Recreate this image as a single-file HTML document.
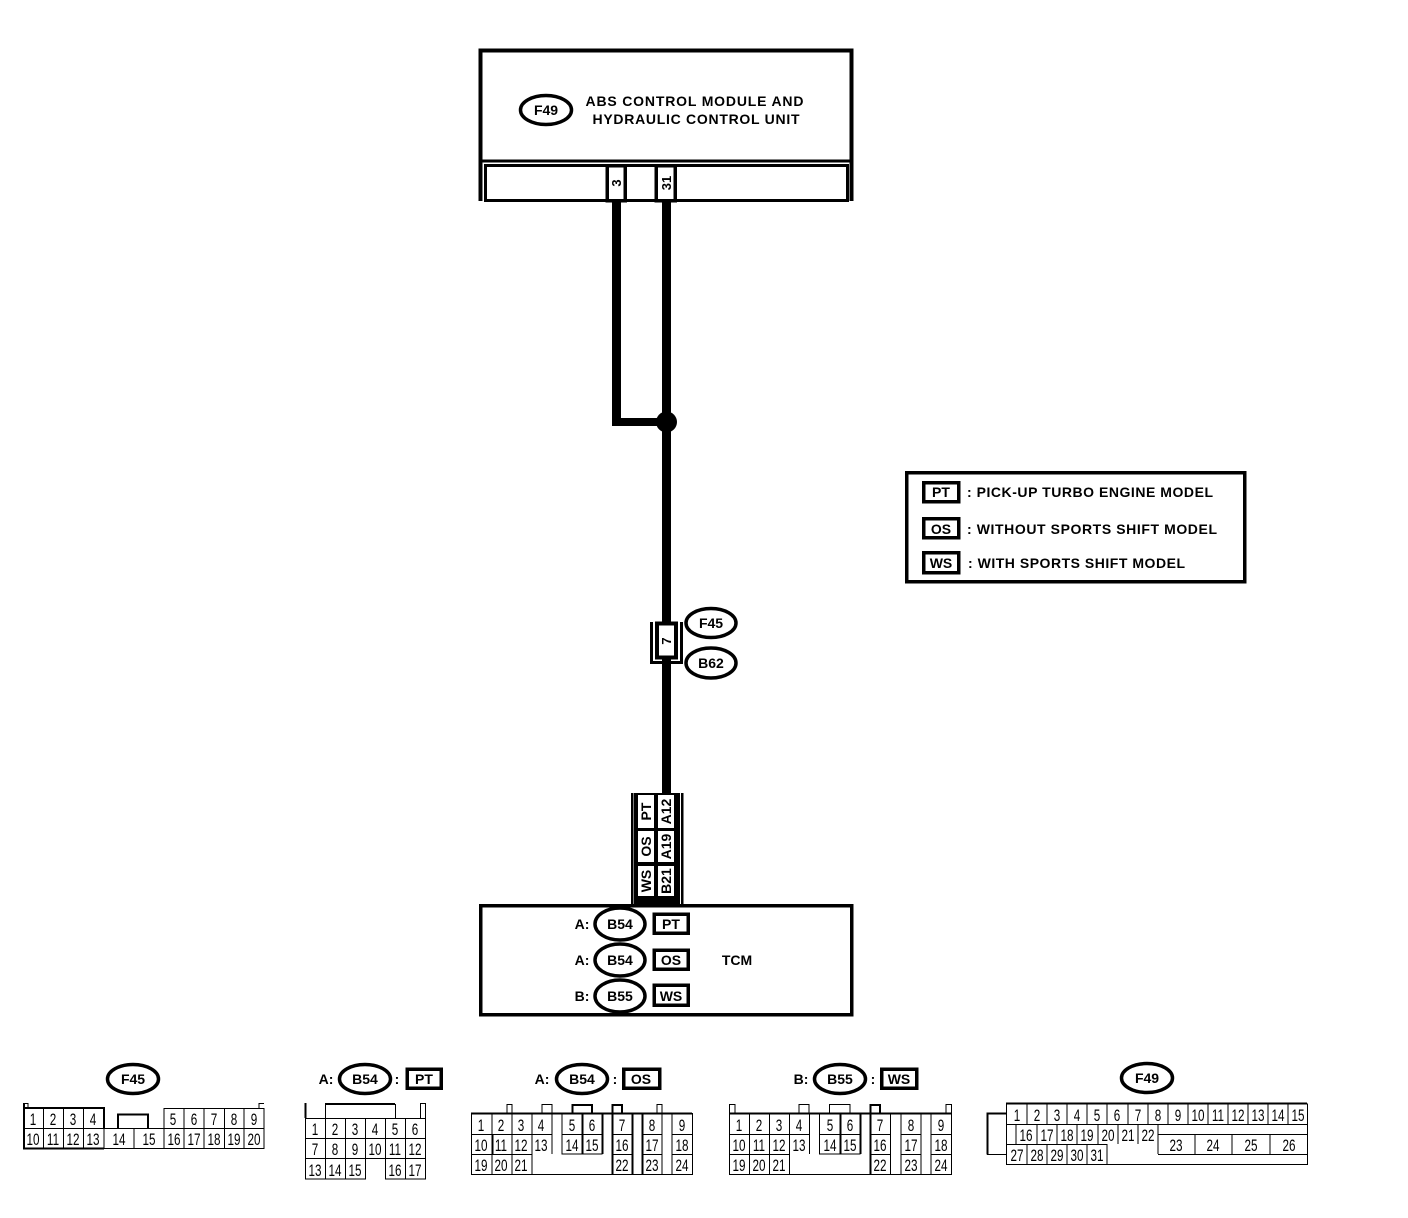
<!DOCTYPE html>
<html><head><meta charset="utf-8"><style>
html,body{margin:0;padding:0;background:#fff}
svg{display:block}
text{font-family:"Liberation Sans",sans-serif;fill:#000;text-anchor:middle}
.b{font-weight:bold;font-size:14px}
.n{font-size:13px;transform-box:fill-box;transform-origin:center;transform:translateY(1px) scale(.9,1.25)}
.l{stroke:#000;fill:none;stroke-width:1.2;shape-rendering:crispEdges}
.h{stroke:#000;fill:none;stroke-width:2;shape-rendering:crispEdges}
.k{stroke:#000;fill:#fff;stroke-width:3.5;shape-rendering:crispEdges}
.e{stroke:#000;fill:#fff;stroke-width:3.5}
</style></head><body>
<svg width="1408" height="1218" viewBox="0 0 1408 1218" xmlns="http://www.w3.org/2000/svg">
<!-- ABS module -->
<path d="M480.500 201V50.500H851.500V201" fill="#fff" stroke="#000" stroke-width="4" shape-rendering="crispEdges"/>
<rect x="479" y="159.500" width="374" height="3" fill="#000"/>
<rect x="485.500" y="165.500" width="362" height="35" fill="#fff" stroke="#000" stroke-width="3" shape-rendering="crispEdges"/>
<rect x="607" y="165.500" width="18" height="35" fill="#fff" stroke="#000" stroke-width="3.500" shape-rendering="crispEdges"/>
<rect x="656" y="165.500" width="19" height="35" fill="#fff" stroke="#000" stroke-width="3.500" shape-rendering="crispEdges"/>
<ellipse class="e" cx="546" cy="110" rx="25.500" ry="14.500"/>
<text class="b" x="546" y="115">F49</text>
<text class="b" x="694.500" y="106" textLength="218" lengthAdjust="spacing">ABS CONTROL MODULE AND</text>
<text class="b" x="696" y="124" textLength="207" lengthAdjust="spacing">HYDRAULIC CONTROL UNIT</text>
<text class="b" transform="translate(621,183) rotate(-90)" style="font-size:13px">3</text>
<text class="b" transform="translate(671,183) rotate(-90)" style="font-size:13px">31</text>
<!-- wires -->
<path d="M612 202H621V418H662V202H671V793H662V426H612Z" fill="#000"/>
<circle cx="666.500" cy="422" r="10.500" fill="#000"/>
<!-- connector 7 -->
<path d="M651.500 622V662.500H681.500V622" fill="none" stroke="#000" stroke-width="3" shape-rendering="crispEdges"/>
<rect x="657" y="623.500" width="19" height="34" fill="#fff" stroke="#000" stroke-width="4" shape-rendering="crispEdges"/>
<rect x="662" y="665" width="9" height="130" fill="#000"/>
<text class="b" transform="translate(671,641) rotate(-90)" style="font-size:13px">7</text>
<ellipse class="e" cx="711" cy="623" rx="25" ry="14.500"/>
<text class="b" x="711" y="628">F45</text>
<ellipse class="e" cx="711" cy="663" rx="25" ry="15"/>
<text class="b" x="711" y="668">B62</text>
<!-- bottom pin stack -->
<path d="M632 793V904M682 793V904" stroke="#000" stroke-width="2.500" fill="none" shape-rendering="crispEdges"/>
<rect x="634" y="793" width="46" height="111" fill="#000"/>
<rect x="638" y="795" width="16" height="33" fill="#fff"/>
<rect x="658" y="795" width="16" height="33" fill="#fff"/>
<rect x="638" y="831" width="16" height="31" fill="#fff"/>
<rect x="658" y="831" width="16" height="31" fill="#fff"/>
<rect x="638" y="866" width="16" height="30" fill="#fff"/>
<rect x="658" y="866" width="16" height="30" fill="#fff"/>
<text class="b" transform="translate(651,811.500) rotate(-90)">PT</text>
<text class="b" transform="translate(671,811.500) rotate(-90)">A12</text>
<text class="b" transform="translate(651,846.500) rotate(-90)">OS</text>
<text class="b" transform="translate(671,846.500) rotate(-90)">A19</text>
<text class="b" transform="translate(651,881) rotate(-90)">WS</text>
<text class="b" transform="translate(671,881) rotate(-90)">B21</text>
<!-- TCM -->
<rect x="480.500" y="905.500" width="371" height="109" fill="#fff" stroke="#000" stroke-width="3.500" shape-rendering="crispEdges"/>
<text class="b" x="582" y="929">A:</text>
<text class="b" x="582" y="965">A:</text>
<text class="b" x="582" y="1001">B:</text>
<ellipse class="e" cx="620" cy="924" rx="25" ry="16"/>
<text class="b" x="620" y="929">B54</text>
<ellipse class="e" cx="620" cy="960" rx="25" ry="16"/>
<text class="b" x="620" y="965">B54</text>
<ellipse class="e" cx="620" cy="996" rx="25" ry="16"/>
<text class="b" x="620" y="1001">B55</text>
<rect class="k" x="654" y="914" width="34" height="19"/>
<text class="b" x="671" y="929">PT</text>
<rect class="k" x="654" y="950" width="34" height="19"/>
<text class="b" x="671" y="965">OS</text>
<rect class="k" x="654" y="985" width="34" height="20"/>
<text class="b" x="671" y="1001">WS</text>
<text class="b" x="737" y="965">TCM</text>
<!-- Legend -->
<rect x="906.500" y="472.500" width="338" height="109" fill="#fff" stroke="#000" stroke-width="3.500" shape-rendering="crispEdges"/>
<rect class="k" x="923.500" y="482.500" width="35" height="19"/>
<text class="b" x="941" y="497">PT</text>
<rect class="k" x="923.500" y="518.500" width="35" height="19"/>
<text class="b" x="941" y="534">OS</text>
<rect class="k" x="923.500" y="552.500" width="35" height="20"/>
<text class="b" x="941" y="568">WS</text>
<text class="b" x="1090" y="497" textLength="246" lengthAdjust="spacing">: PICK-UP TURBO ENGINE MODEL</text>
<text class="b" x="1092" y="534" textLength="250" lengthAdjust="spacing">: WITHOUT SPORTS SHIFT MODEL</text>
<text class="b" x="1076.500" y="568" textLength="217" lengthAdjust="spacing">: WITH SPORTS SHIFT MODEL</text>
<!-- F45 connector -->
<ellipse class="e" cx="133" cy="1079" rx="25.500" ry="14.500"/>
<text class="b" x="133" y="1084">F45</text>
<path class="l" d="M23.500 1148.500H264V1108.500H164V1148M23.500 1108.500V1103.500H28V1108M259 1108V1103.500H264M23.500 1128.500H104M104 1128.500H264M43.500 1108V1148M63.500 1108V1148M83.500 1108V1148M104 1108V1148M134 1128V1148M184 1108V1148M204 1108V1148M224.500 1108V1148M244 1108V1148"/>
<path class="h" d="M24 1103V1148.500H104M24 1108H104V1128M118 1128V1114.500H148V1128"/>
<text class="n" x="33" y="1123">1</text><text class="n" x="53" y="1123">2</text><text class="n" x="73" y="1123">3</text><text class="n" x="93" y="1123">4</text>
<text class="n" x="173" y="1123">5</text><text class="n" x="194" y="1123">6</text><text class="n" x="214" y="1123">7</text><text class="n" x="234" y="1123">8</text><text class="n" x="254" y="1123">9</text>
<text class="n" x="33" y="1143">10</text><text class="n" x="53" y="1143">11</text><text class="n" x="73" y="1143">12</text><text class="n" x="93" y="1143">13</text><text class="n" x="119" y="1143">14</text><text class="n" x="149" y="1143">15</text><text class="n" x="174" y="1143">16</text><text class="n" x="194" y="1143">17</text><text class="n" x="214" y="1143">18</text><text class="n" x="234" y="1143">19</text><text class="n" x="254" y="1143">20</text>
<!-- B54 PT connector -->
<text class="b" x="326" y="1084">A:</text>
<ellipse class="e" cx="365" cy="1079" rx="25.500" ry="14.500"/>
<text class="b" x="365" y="1084">B54</text>
<text class="b" x="397" y="1084">:</text>
<rect class="k" x="407" y="1069" width="34" height="19"/>
<text class="b" x="424" y="1084">PT</text>
<path class="l" d="M305.500 1118.500H425.500V1179H385.500V1158.500H365.500V1179H305.500ZM305.500 1138.500H425.500M305.500 1158.500H365.500M385.500 1158.500H425.500M325.500 1118V1179M345.500 1118V1179M365.500 1118V1158M385.500 1118V1158M405.500 1118V1179M420.500 1118V1103.500H425.500V1118M325.500 1118V1104M395.500 1104V1118"/>
<path class="h" d="M305.500 1118V1103M325 1104H395"/>
<text class="n" x="315" y="1133">1</text><text class="n" x="335" y="1133">2</text><text class="n" x="355" y="1133">3</text><text class="n" x="375" y="1133">4</text><text class="n" x="395" y="1133">5</text><text class="n" x="415" y="1133">6</text>
<text class="n" x="315" y="1153">7</text><text class="n" x="335" y="1153">8</text><text class="n" x="355" y="1153">9</text><text class="n" x="375" y="1153">10</text><text class="n" x="395" y="1153">11</text><text class="n" x="415" y="1153">12</text>
<text class="n" x="315" y="1174">13</text><text class="n" x="335" y="1174">14</text><text class="n" x="355" y="1174">15</text><text class="n" x="395" y="1174">16</text><text class="n" x="415" y="1174">17</text>
<!-- B54 OS connector -->
<text class="b" x="542" y="1084">A:</text>
<ellipse class="e" cx="582" cy="1079" rx="25.500" ry="14.500"/>
<text class="b" x="582" y="1084">B54</text>
<text class="b" x="615" y="1084">:</text>
<rect class="k" x="623.500" y="1069" width="36" height="19"/>
<text class="b" x="641" y="1084">OS</text>
<path class="l" d="M471.500 1113.500H692.500V1174.500H471.500ZM471.500 1134.500H552M562 1134.500H602M612 1134.500H632M642 1134.500H662M672 1134.500H692M471.500 1154.500H532M612 1154.500H632M642 1154.500H662M672 1154.500H692M492 1113V1174M512 1113V1174M532 1113V1174M552 1113V1154M562 1113V1154H602V1113M582 1113V1154M612 1113V1174M632 1113V1174M642 1113V1174M662 1113V1174M672 1113V1174M507 1113V1104.500H512V1113M542 1113V1104.500H552V1113M657 1113V1104.500H662V1113"/>
<path class="h" d="M572.500 1113V1105H592V1113M612.500 1113V1105H622V1113M471 1113.500H692M492.500 1134V1154M582.500 1113V1154M602.500 1113V1154M612.500 1113V1174M632.500 1113V1174M642.500 1113V1174"/>
<text class="n" x="481" y="1129">1</text><text class="n" x="501" y="1129">2</text><text class="n" x="521" y="1129">3</text><text class="n" x="541" y="1129">4</text><text class="n" x="572" y="1129">5</text><text class="n" x="592" y="1129">6</text><text class="n" x="622" y="1129">7</text><text class="n" x="652" y="1129">8</text><text class="n" x="682" y="1129">9</text>
<text class="n" x="481" y="1149">10</text><text class="n" x="501" y="1149">11</text><text class="n" x="521" y="1149">12</text><text class="n" x="541" y="1149">13</text><text class="n" x="572" y="1149">14</text><text class="n" x="592" y="1149">15</text><text class="n" x="622" y="1149">16</text><text class="n" x="652" y="1149">17</text><text class="n" x="682" y="1149">18</text>
<text class="n" x="481" y="1169">19</text><text class="n" x="501" y="1169">20</text><text class="n" x="521" y="1169">21</text><text class="n" x="622" y="1169">22</text><text class="n" x="652" y="1169">23</text><text class="n" x="682" y="1169">24</text>
<!-- B55 WS connector -->
<text class="b" x="801" y="1084">B:</text>
<ellipse class="e" cx="840" cy="1079" rx="25.500" ry="14.500"/>
<text class="b" x="840" y="1084">B55</text>
<text class="b" x="873" y="1084">:</text>
<rect class="k" x="881.500" y="1069" width="35" height="19"/>
<text class="b" x="899" y="1084">WS</text>
<path class="l" d="M729.500 1113.500H951.500V1174.500H729.500ZM729.500 1134.500H809M819 1134.500H860M870 1134.500H891M901 1134.500H921M931 1134.500H951M729.500 1154.500H789M870 1154.500H891M901 1154.500H921M931 1154.500H951M749.500 1113V1174M769.500 1113V1174M789.500 1113V1174M809.500 1113V1154M819.500 1113V1154H860V1113M840 1113V1154M870 1113V1174M890.500 1113V1174M901 1113V1174M921 1113V1174M931 1113V1174M729.500 1113V1104.500H735V1113M799 1113V1104.500H809V1113M946 1113V1104.500H951.500V1113M829.500 1113V1104.500H850V1113"/>
<path class="h" d="M870.500 1113V1105H880V1113M729 1113.500H951M840.500 1113V1154M860.500 1113V1154M870.500 1113V1174"/>
<text class="n" x="739" y="1129">1</text><text class="n" x="759" y="1129">2</text><text class="n" x="779" y="1129">3</text><text class="n" x="799" y="1129">4</text><text class="n" x="830" y="1129">5</text><text class="n" x="850" y="1129">6</text><text class="n" x="880" y="1129">7</text><text class="n" x="911" y="1129">8</text><text class="n" x="941" y="1129">9</text>
<text class="n" x="739" y="1149">10</text><text class="n" x="759" y="1149">11</text><text class="n" x="779" y="1149">12</text><text class="n" x="799" y="1149">13</text><text class="n" x="830" y="1149">14</text><text class="n" x="850" y="1149">15</text><text class="n" x="880" y="1149">16</text><text class="n" x="911" y="1149">17</text><text class="n" x="941" y="1149">18</text>
<text class="n" x="739" y="1169">19</text><text class="n" x="759" y="1169">20</text><text class="n" x="779" y="1169">21</text><text class="n" x="880" y="1169">22</text><text class="n" x="911" y="1169">23</text><text class="n" x="941" y="1169">24</text>
<!-- F49 connector -->
<ellipse class="e" cx="1147" cy="1078" rx="25.500" ry="14.500"/>
<text class="b" x="1147" y="1083">F49</text>
<path class="l" d="M1006.500 1104H1307.500V1164.500H1006.500ZM1006.500 1124.500H1307M1006.500 1144.500H1107M1158 1134.500H1307M1158 1154.500H1307M1158 1124V1154M1027 1104V1124M1047 1104V1124M1067 1104V1124M1087 1104V1124M1107 1104V1124M1128 1104V1124M1148 1104V1124M1168 1104V1124M1188 1104V1124M1208 1104V1124M1228 1104V1124M1248 1104V1124M1268 1104V1124M1288 1104V1124M1016 1124V1144M1037 1124V1144M1057 1124V1144M1077 1124V1144M1098 1124V1144M1118 1124V1144M1138 1124V1144M1195 1134V1154M1232 1134V1154M1270 1134V1154M1027 1144V1164M1047 1144V1164M1067 1144V1164M1087 1144V1164M1107 1144V1164M987 1154.500H1006"/>
<path class="h" d="M1006 1103.500H1307M1006 1113.500H987.500V1154.500"/>
<text class="n" x="1017" y="1119">1</text><text class="n" x="1037" y="1119">2</text><text class="n" x="1057" y="1119">3</text><text class="n" x="1077" y="1119">4</text><text class="n" x="1097" y="1119">5</text><text class="n" x="1117" y="1119">6</text><text class="n" x="1138" y="1119">7</text><text class="n" x="1158" y="1119">8</text><text class="n" x="1178" y="1119">9</text><text class="n" x="1198" y="1119">10</text><text class="n" x="1218" y="1119">11</text><text class="n" x="1238" y="1119">12</text><text class="n" x="1258" y="1119">13</text><text class="n" x="1278" y="1119">14</text><text class="n" x="1298" y="1119">15</text>
<text class="n" x="1026" y="1139">16</text><text class="n" x="1047" y="1139">17</text><text class="n" x="1067" y="1139">18</text><text class="n" x="1087" y="1139">19</text><text class="n" x="1108" y="1139">20</text><text class="n" x="1128" y="1139">21</text><text class="n" x="1148" y="1139">22</text>
<text class="n" x="1176" y="1149">23</text><text class="n" x="1213" y="1149">24</text><text class="n" x="1251" y="1149">25</text><text class="n" x="1289" y="1149">26</text>
<text class="n" x="1017" y="1159">27</text><text class="n" x="1037" y="1159">28</text><text class="n" x="1057" y="1159">29</text><text class="n" x="1077" y="1159">30</text><text class="n" x="1097" y="1159">31</text>
</svg>
</body></html>
